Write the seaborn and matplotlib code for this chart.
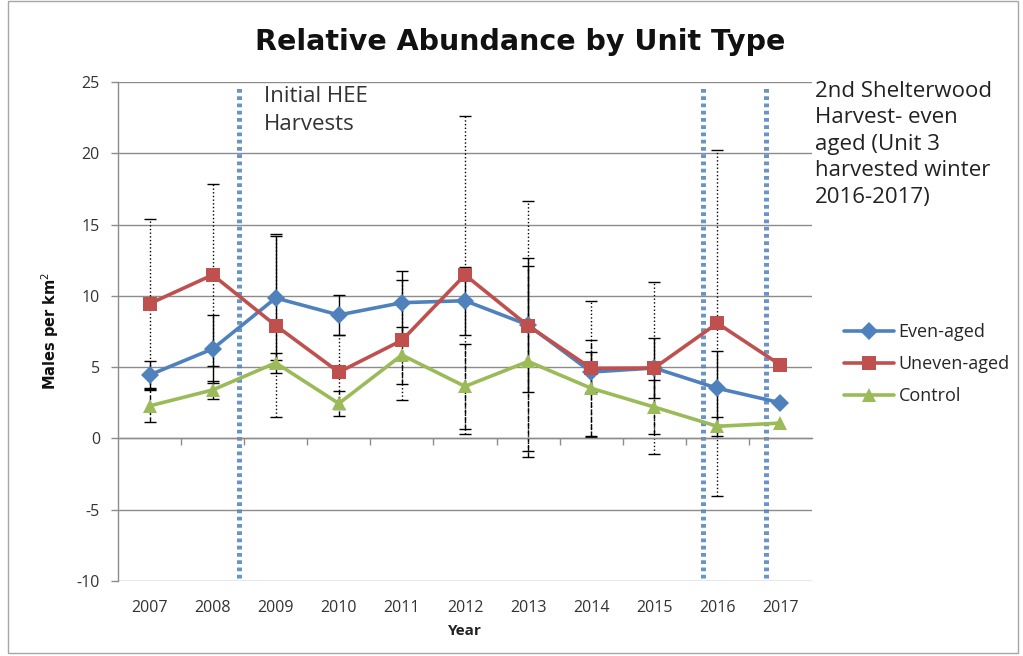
import numpy as np
import pandas as pd
import matplotlib
matplotlib.use("Agg")
import matplotlib.pyplot as plt
from matplotlib.patches import Rectangle
import seaborn as sns

# Survey years and relative abundance (males per km^2) by unit type
years = [2007, 2008, 2009, 2010, 2011, 2012, 2013, 2014, 2015, 2016, 2017]
even_aged = [4.45, 6.28, 9.85, 8.66, 9.52, 9.66, 7.96, 4.66, 4.94, 3.52, 2.50]
uneven_aged = [9.45, 11.47, 7.92, 4.65, 6.88, 11.47, 7.90, 4.92, 4.94, 8.08, 5.15]
control = [2.28, 3.40, 5.30, 2.45, 5.85, 3.65, 5.40, 3.52, 2.20, 0.85, 1.08]

# Error bar half-widths (no estimate for 2017)
even_err = [1.0, 2.4, 4.35, 1.4, 2.25, 2.39, 4.67, 1.4, 2.1, 2.6, np.nan]
uneven_err = [5.94, 6.4, 6.45, 2.6, 4.2, 11.17, 8.75, 4.74, 6.0, 12.15, np.nan]
control_err = [1.1, 0.65, 0.7, 0.85, 2.0, 3.0, 6.7, 3.4, 1.9, 0.66, np.nan]

series_names = ["Even-aged", "Uneven-aged", "Control"]
colors = ["#4F81BD", "#C0504D", "#9BBB59"]
markers = ["D", "s", "^"]
err_styles = ["-", ":", "--"]

# Harvest events, in category-position units along the year axis
harvest_positions = [1.42, 8.77, 9.77]

sns.set_theme(style="white")
plt.rcParams["font.family"] = ["Open Sans", "DejaVu Sans"]
plt.rcParams["axes.unicode_minus"] = False

fig = plt.figure(figsize=(10.23, 6.56), dpi=100)
ax = fig.add_axes([118 / 1023, 1 - 581 / 656, (812 - 118) / 1023, (581 - 82) / 656])

pos = np.arange(len(years))
df = pd.DataFrame({
    "pos": np.tile(pos, 3),
    "value": even_aged + uneven_aged + control,
    "series": np.repeat(series_names, len(years)),
})

# error bars first so the markers sit on top
for vals, errs, style in zip([even_aged, uneven_aged, control],
                             [even_err, uneven_err, control_err], err_styles):
    eb = ax.errorbar(pos, vals, yerr=errs, fmt="none", ecolor="black",
                     elinewidth=1.0, capsize=4, capthick=1.0, zorder=2)
    eb[2][0].set_linestyle(style)

sns.lineplot(data=df, x="pos", y="value", hue="series", style="series",
             hue_order=series_names, style_order=series_names,
             palette=colors, markers=markers, dashes=False,
             linewidth=2.6, markersize=9.5, markeredgewidth=0,
             ax=ax, zorder=3, legend=True)

# harvest marker lines
for hp in harvest_positions:
    ax.axvline(hp, ymin=0.006, ymax=0.994, color="#4F81BD",
               linewidth=3.6, linestyle=(0, (0.75, 0.7)), zorder=1,
               solid_capstyle="butt", dash_capstyle="butt", alpha=0.85)

ax.set_xlim(-0.5, len(years) - 0.5)
ax.set_ylim(-10, 25)
ax.set_yticks(np.arange(-10, 26, 5))
ax.yaxis.grid(True, color="#8C8C8C", linewidth=1.0)
ax.xaxis.grid(False)
ax.set_axisbelow(True)

for side in ["top", "right"]:
    ax.spines[side].set_visible(False)
ax.spines["left"].set_color("#8C8C8C")
ax.spines["left"].set_linewidth(1.0)

# horizontal axis line crosses at zero with ticks between categories
ax.spines["bottom"].set_position(("data", 0))
ax.spines["bottom"].set_color("#8C8C8C")
ax.spines["bottom"].set_linewidth(1.0)
ax.set_xticks(pos[:-1] + 0.5)
ax.set_xticklabels([])
ax.tick_params(axis="x", bottom=True, length=5, width=1, color="#8C8C8C", direction="out")
ax.tick_params(axis="y", left=True, length=5, width=1, color="#8C8C8C",
               direction="out", labelsize=11.5, labelcolor="#333333", pad=8)

# year labels along the bottom of the plot area
sec = ax.secondary_xaxis("bottom")
sec.set_xticks(pos)
sec.set_xticklabels([str(y) for y in years], fontsize=11.5)
sec.tick_params(axis="x", length=0, labelcolor="#333333", pad=14)
sec.spines["bottom"].set_visible(False)

ax.set_xlabel("")
ax.set_ylabel("")
fig.text(465 / 1023, 1 - 631 / 656, "Year", ha="center", va="center",
         fontsize=11, fontweight="bold", color="#222222")
fig.text(50 / 1023, 1 - 331 / 656, "Males per km$^2$", ha="center", va="center",
         rotation=90, fontsize=10.5, fontweight="bold", color="#111111",
         family=["Liberation Sans Narrow", "DejaVu Sans"])

fig.text(520 / 1023, 1 - 42 / 656, "Relative Abundance by Unit Type",
         ha="center", va="center", fontsize=20.5, fontweight="bold", color="#111111",
         family=["DejaVu Sans"])

ax.text(1.81, 24.7, "Initial HEE\nHarvests", ha="left", va="top",
        fontsize=16, color="#333333", linespacing=1.4)
fig.text(815 / 1023, 1 - 81 / 656,
         "2nd Shelterwood\nHarvest- even\naged (Unit 3\nharvested winter\n2016-2017)",
         ha="left", va="top", fontsize=16, color="#222222", linespacing=1.34)

handles, labels = ax.get_legend_handles_labels()
leg = ax.legend(handles, labels, loc="center left", bbox_to_anchor=(1.035, 0.435),
                frameon=False, fontsize=13, handlelength=2.8, handletextpad=0.25,
                labelspacing=0.78, borderaxespad=0)
for h in leg.legend_handles:
    h.set_linewidth(2.6)

# outer chart border
fig.patches.append(Rectangle((8 / 1023, 3 / 656), 1010 / 1023, 652 / 656,
                             transform=fig.transFigure, fill=False,
                             edgecolor="#A6A6A6", linewidth=1.0))

fig.savefig("out.png", dpi=100)
